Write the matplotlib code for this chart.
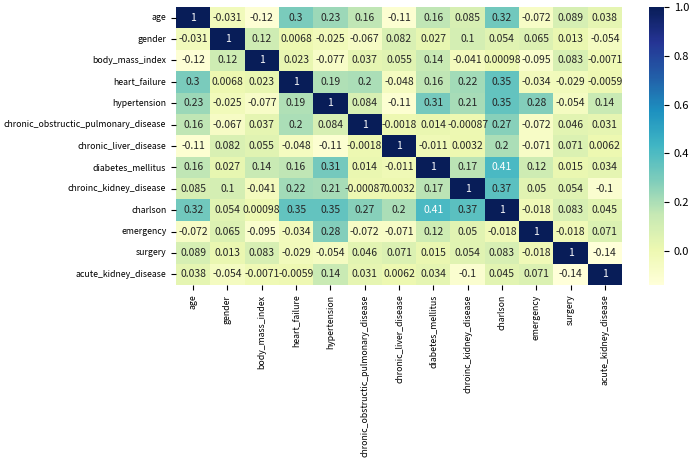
import matplotlib
matplotlib.use('Agg')
import matplotlib.pyplot as plt
import numpy as np
import pandas as pd
import seaborn as sns

plt.rcParams['font.family'] = ['Noto Sans CJK SC', 'DejaVu Sans']
plt.rcParams['axes.unicode_minus'] = False

cols = ['age', 'gender', 'body_mass_index', 'heart_failure', 'hypertension',
        'chronic_obstructic_pulmonary_disease', 'chronic_liver_disease',
        'diabetes_mellitus', 'chroinc_kidney_disease', 'charlson',
        'emergency', 'surgery', 'acute_kidney_disease']

age = [1, -0.031, -0.12, 0.3, 0.23, 0.16, -0.11, 0.16, 0.085, 0.32, -0.072, 0.089, 0.038]
gender = [-0.031, 1, 0.12, 0.0068, -0.025, -0.067, 0.082, 0.027, 0.1, 0.054, 0.065, 0.013, -0.054]
bmi = [-0.12, 0.12, 1, 0.023, -0.077, 0.037, 0.055, 0.14, -0.041, 0.00098, -0.095, 0.083, -0.0071]
hf = [0.3, 0.0068, 0.023, 1, 0.19, 0.2, -0.048, 0.16, 0.22, 0.35, -0.034, -0.029, -0.0059]
htn = [0.23, -0.025, -0.077, 0.19, 1, 0.084, -0.11, 0.31, 0.21, 0.35, 0.28, -0.054, 0.14]
copd = [0.16, -0.067, 0.037, 0.2, 0.084, 1, -0.0018, 0.014, -0.00087, 0.27, -0.072, 0.046, 0.031]
cld = [-0.11, 0.082, 0.055, -0.048, -0.11, -0.0018, 1, -0.011, 0.0032, 0.2, -0.071, 0.071, 0.0062]
dm = [0.16, 0.027, 0.14, 0.16, 0.31, 0.014, -0.011, 1, 0.17, 0.41, 0.12, 0.015, 0.034]
ckd = [0.085, 0.1, -0.041, 0.22, 0.21, -0.00087, 0.0032, 0.17, 1, 0.37, 0.05, 0.054, -0.1]
charlson = [0.32, 0.054, 0.00098, 0.35, 0.35, 0.27, 0.2, 0.41, 0.37, 1, -0.018, 0.083, 0.045]
emergency = [-0.072, 0.065, -0.095, -0.034, 0.28, -0.072, -0.071, 0.12, 0.05, -0.018, 1, -0.018, 0.071]
surgery = [0.089, 0.013, 0.083, -0.029, -0.054, 0.046, 0.071, 0.015, 0.054, 0.083, -0.018, 1, -0.14]
akd = [0.038, -0.054, -0.0071, -0.0059, 0.14, 0.031, 0.0062, 0.034, -0.1, 0.045, 0.071, -0.14, 1]

corr = pd.DataFrame([age, gender, bmi, hf, htn, copd, cld, dm, ckd, charlson,
                     emergency, surgery, akd], index=cols, columns=cols)

fig = plt.figure(figsize=(6.93, 4.72), dpi=100)
ax = fig.add_axes([176 / 693, 1 - 285 / 472, 446 / 693, 278 / 472])
cax = fig.add_axes([649 / 693, 1 - 285 / 472, 15 / 693, 278 / 472])
sns.heatmap(corr, annot=True, fmt='.2g', cmap='YlGnBu', ax=ax, cbar_ax=cax,
            annot_kws={'fontsize': 7.5})
ax.tick_params(labelsize=6.3)
cax.tick_params(labelsize=8)
plt.setp(ax.get_xticklabels(), rotation=90)
plt.setp(ax.get_yticklabels(), rotation=0)

plt.savefig('out.png', dpi=100)
